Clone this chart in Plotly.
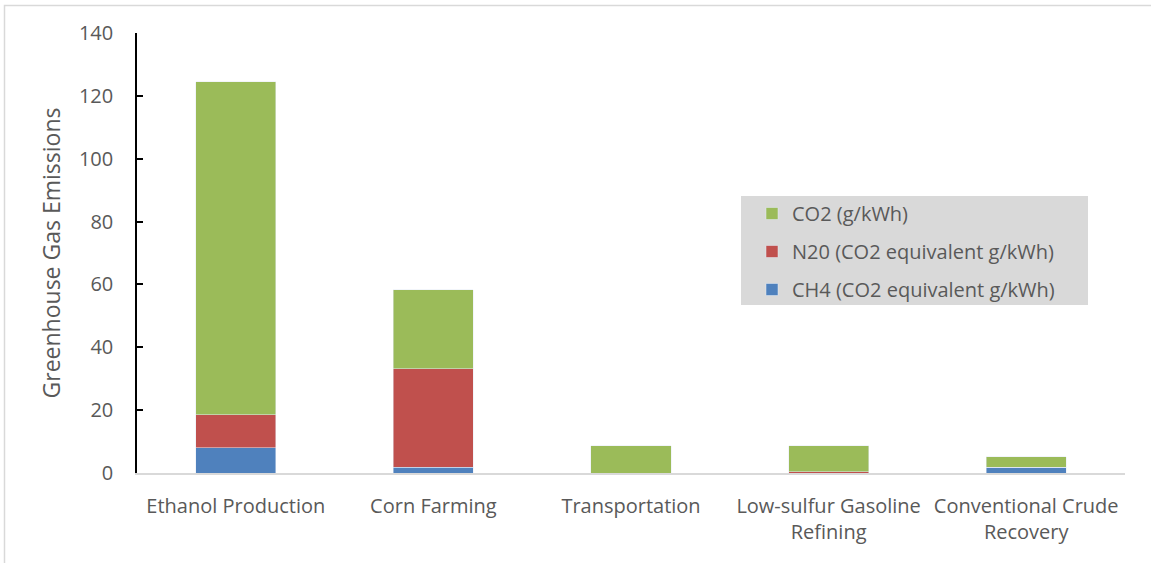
import plotly.graph_objects as go

categories = ["Ethanol Production", "Corn Farming", "Transportation",
              "Low-sulfur Gasoline<br>Refining", "Conventional Crude<br>Recovery"]
ch4 = [8.0, 1.8, 0.0, 0.0, 1.9]
n2o = [10.5, 31.4, 0.0, 0.4, 0.0]
co2 = [106.0, 25.1, 8.6, 8.2, 3.2]
y_ticks = [0, 20, 40, 60, 80, 100, 120, 140]

FONT = "Open Sans"
TXT = "#595959"

fig = go.Figure()
fig.add_bar(x=categories, y=ch4, name="CH4 (CO2 equivalent g/kWh)", marker_color="#4F81BD", width=0.405,
            legendgroup="a", legendrank=3)
fig.add_bar(x=categories, y=n2o, name="N20 (CO2 equivalent g/kWh)", marker_color="#C0504D", width=0.405,
            legendgroup="b", legendrank=2)
fig.add_bar(x=categories, y=co2, name="CO2 (g/kWh)", marker_color="#9BBB59", width=0.405,
            legendgroup="c", legendrank=1)

L, R, T, B = 137, 26, 33, 90
W, H = 1151, 563
pw, ph = W - L - R, H - T - B

def px(x):
    return (x - L) / pw

def py(y):
    return (H - B - y) / ph

shapes = [
    dict(type="rect", xref="paper", yref="paper", x0=px(741), x1=px(1088), y0=py(305), y1=py(196),
         fillcolor="#D9D9D9", line_width=0, layer="below"),
    dict(type="rect", xref="paper", yref="paper", x0=px(4.5), x1=px(1170), y0=py(580), y1=py(5.5),
         fillcolor="rgba(0,0,0,0)", line=dict(color="#D9D9D9", width=1.5)),
]

fig.update_layout(
    barmode="stack",
    width=W, height=H,
    margin=dict(l=L, r=R, t=T, b=B, autoexpand=False),
    plot_bgcolor="white", paper_bgcolor="white",
    font=dict(family=FONT, size=20, color=TXT),
    showlegend=True,
    legend=dict(x=px(752), y=py(194), xanchor="left", yanchor="top", traceorder="grouped",
                bgcolor="rgba(0,0,0,0)", font=dict(family=FONT, size=20, color=TXT),
                tracegroupgap=9),
    shapes=shapes,
    xaxis=dict(showline=True, linecolor="#D9D9D9", linewidth=2, ticks="", showgrid=False,
               tickfont=dict(family=FONT, size=20, color=TXT), automargin=False,
               ticklabelstandoff=14),
    yaxis=dict(range=[0, 140], tickvals=y_ticks, showline=True, linecolor="black", linewidth=1.5,
               ticks="inside", ticklen=6, tickcolor="black", tickwidth=1.5, showgrid=False, zeroline=False,
               tickfont=dict(family=FONT, size=20, color=TXT), automargin=False,
               ticklabelstandoff=18,
               title=dict(text="Greenhouse Gas Emissions", font=dict(family=FONT, size=23, color=TXT),
                          standoff=12)),
    bargap=0.6,
)

fig.write_html("out.html")
